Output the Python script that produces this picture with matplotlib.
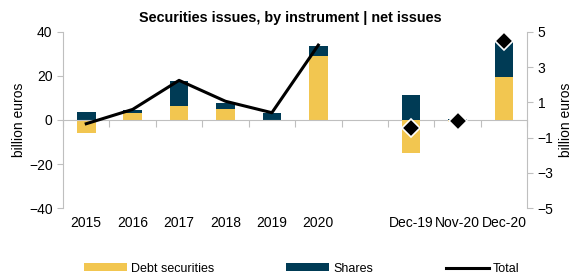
import matplotlib
matplotlib.use("Agg")
import matplotlib.pyplot as plt
import numpy as np
from matplotlib.patches import Patch
from matplotlib.lines import Line2D

plt.rcParams['font.family'] = ['Liberation Sans', 'DejaVu Sans']

categories = ["2015", "2016", "2017", "2018", "2019", "2020", "", "Dec-19", "Nov-20", "Dec-20"]
annual_debt = [-5.9, 3.3, 6.4, 4.9, 0.0, 29.1]
annual_shares = [3.8, 1.2, 11.3, 3.0, 3.3, 4.5]
annual_total = [-1.7, 4.8, 18.0, 8.5, 3.3, 34.0]
monthly_debt = [-1.9, -0.1, 2.42]
monthly_shares = [1.41, 0.05, 2.08]
monthly_total = [-0.44, -0.05, 4.5]

YELLOW = "#F2C650"
NAVY = "#003B55"
GREY = "#BFBFBF"

fig = plt.figure(figsize=(5.73, 2.8), dpi=100)
ax = fig.add_axes([0.110, 0.257, 0.810, 0.629])
ax2 = ax.twinx()

x = np.arange(len(categories))
xa = x[:6]
xm = x[7:]
w = 0.4

def stack(axis, xs, debt, shares):
    debt = np.array(debt); shares = np.array(shares)
    axis.bar(xs, debt, w, color=YELLOW, zorder=2)
    pos_base = np.where(debt > 0, debt, 0)
    neg_base = np.where(debt < 0, debt, 0)
    base = np.where(shares >= 0, pos_base, neg_base)
    axis.bar(xs, shares, w, bottom=base, color=NAVY, zorder=2)

stack(ax, xa, annual_debt, annual_shares)
ax.plot(xa, annual_total, color="black", lw=2.2, zorder=3)

stack(ax2, xm, monthly_debt, monthly_shares)
ax2.plot(xm, monthly_total, linestyle="none", marker="D", markersize=9,
         markerfacecolor="black", markeredgecolor="white", markeredgewidth=1.2, zorder=4)

ax.set_xlim(-0.5, len(categories) - 0.5)
ax.set_ylim(-40, 40)
ax.set_yticks([-40, -20, 0, 20, 40])
ax2.set_ylim(-5, 5)
ax2.set_yticks([-5, -3, -1, 1, 3, 5])

for a in (ax, ax2):
    a.spines['top'].set_visible(False)
    a.spines['left'].set_color(GREY)
    a.spines['right'].set_color(GREY)
    a.tick_params(axis='y', colors=GREY, labelcolor='black', labelsize=10, length=4)
ax2.spines['bottom'].set_visible(False)
ax2.spines['left'].set_visible(False)
ax.spines['right'].set_visible(False)

ax.spines['bottom'].set_position(('data', 0))
ax.spines['bottom'].set_color(GREY)
ax.set_xticks(np.arange(-0.5, len(categories) + 0.5, 1.0))
ax.set_xticklabels([])
ax.tick_params(axis='x', colors=GREY, length=5, direction='out')

sec = ax.secondary_xaxis('bottom')
sec.set_xticks(x)
sec.set_xticklabels(categories, fontsize=10)
sec.tick_params(length=0, pad=6)
sec.spines['bottom'].set_visible(False)

ax.set_ylabel("billion euros", fontsize=10, labelpad=2)
ax2.set_ylabel("billion euros", fontsize=10, labelpad=4)

fig.text(0.506, 0.935, "Securities issues, by instrument | net issues", ha='center', va='center',
         fontsize=10.4, fontweight='bold')

handles = [Patch(facecolor=YELLOW, edgecolor='none'),
           Patch(facecolor=NAVY, edgecolor='none'),
           Line2D([0], [0], color='black', lw=2.2)]
labels = ["Debt securities", "Shares", "Total"]
fig.legend(handles, labels, loc='center', bbox_to_anchor=(0.526, 0.04), ncol=3, frameon=False,
           fontsize=9, handlelength=3.45, handleheight=0.6, handletextpad=0.3, columnspacing=5.8)

fig.savefig("out.png", dpi=100)
